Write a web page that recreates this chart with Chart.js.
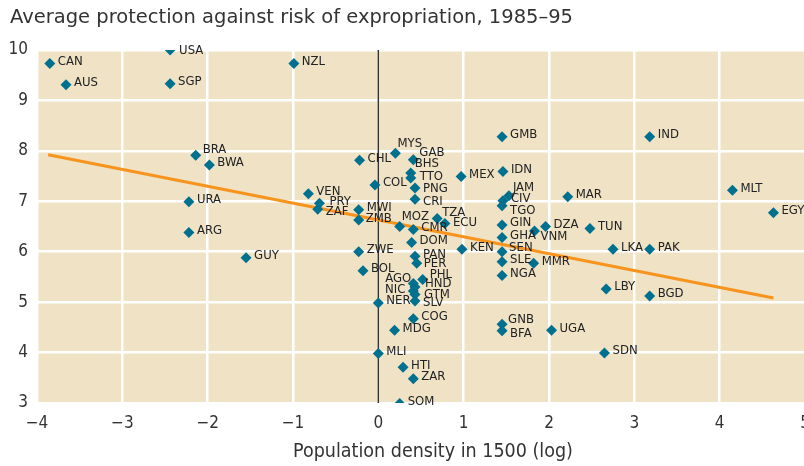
<!DOCTYPE html>
<html>
<head>
<meta charset="utf-8">
<script src="https://cdn.jsdelivr.net/npm/chart.js@4.4.1/dist/chart.umd.min.js"></script>
<style>
  html, body { margin: 0; padding: 0; background: #fff; overflow: hidden; }
  #wrap { width: 813px; height: 466px; }
</style>
</head>
<body>
<div id="wrap"><canvas id="chart" width="813" height="466"></canvas></div>
<script>
// country codes, x = log population density in 1500, y = expropriation risk score
const codes = ["CAN", "AUS", "USA", "SGP", "NZL", "BRA", "BWA", "URA", "ARG", "GUY",
    "GMB", "MYS", "CHL", "GAB", "BHS", "TTO", "MEX", "IDN", "COL", "PNG",
    "CRI", "VEN", "PRY", "ZAF", "MWI", "ZMB", "MOZ", "CMR", "TZA", "ECU",
    "DOM", "PAN", "PER", "ZWE", "BOL", "KEN", "JAM", "CIV", "TGO", "GIN",
    "GHA", "SEN", "SLE", "NGA", "AGO", "PHL", "HND", "NIC", "GTM", "NER",
    "SLV", "COG", "MDG", "MLI", "HTI", "ZAR", "SOM", "GNB", "BFA", "IND",
    "MLT", "EGY", "MAR", "DZA", "VNM", "TUN", "LKA", "PAK", "MMR", "LBY",
    "BGD", "UGA", "SDN"];
const densityLog = [-3.85, -3.66, -2.44, -2.44, -0.99, -2.14, -1.98, -2.22, -2.22, -1.55,
    1.45, 0.20, -0.22, 0.41, 0.38, 0.38, 0.97, 1.46, -0.04, 0.43,
    0.43, -0.82, -0.69, -0.71, -0.23, -0.23, 0.25, 0.41, 0.69, 0.78,
    0.39, 0.43, 0.45, -0.23, -0.18, 0.98, 1.53, 1.46, 1.45, 1.45,
    1.45, 1.45, 1.45, 1.45, 0.41, 0.52, 0.43, 0.41, 0.43, 0.00,
    0.43, 0.41, 0.19, 0.00, 0.29, 0.41, 0.25, 1.45, 1.45, 3.18,
    4.15, 4.63, 2.22, 1.96, 1.83, 2.48, 2.75, 3.18, 1.82, 2.67,
    3.18, 2.03, 2.65];
const protection = [9.73, 9.31, 10.0, 9.33, 9.73, 7.91, 7.72, 6.99, 6.38, 5.88,
    8.28, 7.95, 7.81, 7.82, 7.56, 7.46, 7.49, 7.59, 7.32, 7.26,
    7.04, 7.15, 6.96, 6.84, 6.83, 6.63, 6.50, 6.44, 6.66, 6.56,
    6.18, 5.91, 5.77, 6.00, 5.62, 6.05, 7.11, 7.01, 6.91, 6.53,
    6.28, 6.00, 5.80, 5.53, 5.37, 5.45, 5.30, 5.22, 5.15, 4.98,
    5.02, 4.67, 4.44, 3.98, 3.71, 3.48, 2.99, 4.56, 4.43, 8.28,
    7.22, 6.77, 7.09, 6.50, 6.41, 6.46, 6.05, 6.05, 5.77, 5.26,
    5.12, 4.44, 3.99];
// fitted line end points
const fitX = [-3.87, 4.63];
const fitY = [7.92, 5.08];
const xTicks = [-4, -3, -2, -1, 0, 1, 2, 3, 4, 5];
const xTitle = "Population density in 1500 (log)";

// label placement tweaks (px from the marker centre)
const nudge = {
    MYS: [2, -10], GAB: [6, -7], BHS: [4, -9], TTO: [9, -1], PNG: [8, 1], CRI: [8, 2],
    ZAF: [8, 2], ZMB: [7, -1], MOZ: [2, -10], TZA: [5, -6], ECU: [8, -1], PER: [7, 0],
    JAM: [4, -8], TGO: [8, 5], SEN: [7, -4], PHL: [7, -5], AGO: [-2, -5, "right"],
    NIC: [-8, -1, "right"], HND: [10, -3], GTM: [9, 0], SLV: [8, 2], GNB: [6, -5],
    BFA: [8, 3], VNM: [6, 6], BRA: [7, -6], USA: [9, 1], PRY: [10, -2]
};

const condensed = "'DejaVu Sans Condensed', 'Liberation Sans Narrow', sans-serif";
const labelFont = "13px " + condensed;

const points = codes.map((c, i) => ({x: densityLog[i], y: protection[i], code: c}));
const fitPoints = fitX.map((x, i) => ({x: x, y: fitY[i]}));

const panelPlugin = {
    id: "panel",
    beforeDraw(chart) {
        const {ctx, chartArea: a} = chart;
        ctx.save();
        ctx.fillStyle = "#efe2c5";
        ctx.fillRect(a.left, a.top, a.right - a.left, a.bottom - a.top);
        ctx.restore();
    },
    beforeDatasetsDraw(chart) {
        const {ctx, chartArea: a, scales} = chart;
        const x0 = scales.x.getPixelForValue(0);
        ctx.save();
        ctx.strokeStyle = "#333";
        ctx.lineWidth = 1.5;
        ctx.beginPath();
        ctx.moveTo(x0, a.top);
        ctx.lineTo(x0, a.bottom);
        ctx.stroke();
        ctx.restore();
    },
    afterDatasetsDraw(chart) {
        const {ctx, chartArea: a} = chart;
        const meta = chart.getDatasetMeta(0);
        ctx.save();
        ctx.font = labelFont;
        ctx.fillStyle = "#222";
        ctx.textBaseline = "middle";
        meta.data.forEach((el, i) => {
            const n = nudge[codes[i]] || [8, -2];
            ctx.textAlign = n[2] || "left";
            ctx.fillText(codes[i], el.x + n[0], el.y + n[1]);
        });
        // x axis title, sits a little right of centre in the original
        ctx.font = "19.5px " + condensed;
        ctx.fillStyle = "#333";
        ctx.textAlign = "center";
        ctx.fillText(xTitle, (a.left + a.right) / 2 + 12, chart.height - 14);
        ctx.restore();
    }
};

new Chart(document.getElementById("chart"), {
    type: "scatter",
    data: {
        datasets: [
            {
                data: points,
                pointStyle: "rectRot",
                pointRadius: 5.5,
                pointBackgroundColor: "#00708f",
                pointBorderWidth: 0,
                order: 1
            },
            {
                type: "line",
                data: fitPoints,
                borderColor: "#f7941d",
                borderWidth: 3,
                pointRadius: 0,
                fill: false,
                order: 2
            }
        ]
    },
    options: {
        responsive: false,
        animation: false,
        layout: {padding: {left: 10, right: 8, top: 0, bottom: 0}},
        plugins: {
            legend: {display: false},
            tooltip: {enabled: false},
            title: {
                display: true,
                text: "Average protection against risk of expropriation, 1985–95",
                align: "start",
                color: "#333",
                font: {family: "'DejaVu Sans', sans-serif", size: 19.5, weight: "normal"},
                padding: {top: 6, bottom: 20.5}
            }
        },
        scales: {
            x: {
                type: "linear",
                min: -4,
                max: 5,
                afterFit(s) { s.height = 63; s.paddingLeft = 0; s.paddingRight = 0; },
                afterBuildTicks(s) { s.ticks = xTicks.map(v => ({value: v})); },
                border: {display: false},
                grid: {color: "#ffffff", lineWidth: 2.5, drawTicks: false},
                ticks: {
                    color: "#333",
                    padding: 10,
                    font: {family: condensed, size: 17},
                    callback: v => String(v).replace("-", "\u2212")
                },
                title: {display: false}
            },
            y: {
                min: 3,
                max: 10,
                afterFit(s) { s.width = 27; },
                border: {display: false},
                grid: {color: "#ffffff", lineWidth: 2.5, drawTicks: false},
                ticks: {
                    stepSize: 1,
                    color: "#333",
                    padding: 9,
                    font: {family: condensed, size: 17}
                }
            }
        }
    },
    plugins: [panelPlugin]
});
</script>
</body>
</html>
